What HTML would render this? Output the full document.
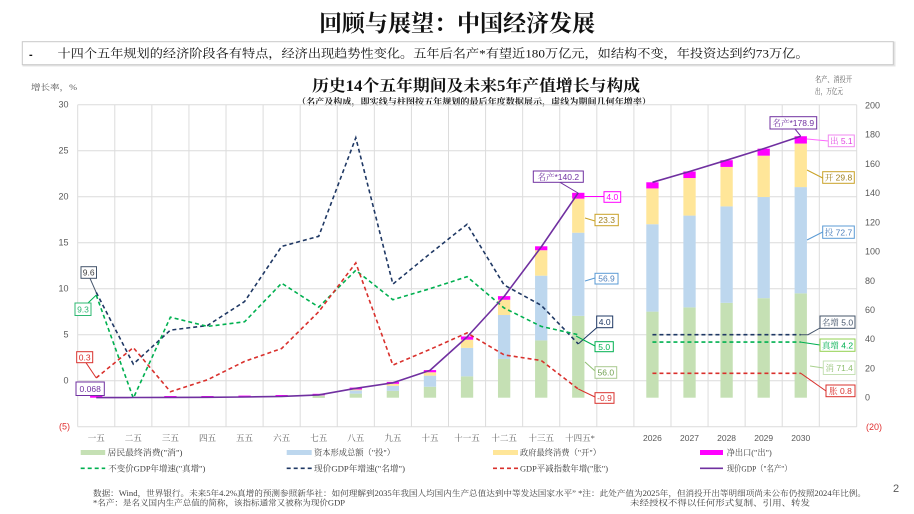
<!DOCTYPE html>
<html>
<head>
<meta charset="utf-8">
<style>
html,body{margin:0;padding:0;background:#fff;}
svg{display:block;}
.cjk{font-family:"Liberation Serif","Noto Serif CJK SC",serif;}
.num{font-family:"Liberation Sans","Noto Sans CJK SC",sans-serif;}
</style>
</head>
<body>
<svg width="914" height="514" viewBox="0 0 914 514" xmlns="http://www.w3.org/2000/svg">
<rect x="0" y="0" width="914" height="514" fill="#fff"/>

<!-- Main title -->
<text x="457" y="31" text-anchor="middle" class="cjk" font-size="23" font-weight="700" fill="#111">回顾与展望：中国经济发展</text>

<!-- bullet box -->
<rect x="23.5" y="42.5" width="871" height="23" fill="#fff" stroke="#e4e4e4" stroke-width="2"/>
<rect x="22.3" y="41.7" width="871" height="23" fill="#fff" stroke="#c8c8c8" stroke-width="1"/>
<text x="29" y="58" class="num" font-size="11" font-weight="700" fill="#111">-</text>
<text x="57.5" y="57.5" class="cjk" font-size="12" fill="#111" textLength="751" lengthAdjust="spacingAndGlyphs">十四个五年规划的经济阶段各有特点，经济出现趋势性变化。五年后名产*有望近180万亿元，如结构不变，年投资达到约73万亿。</text>

<!-- chart titles -->
<text x="476" y="91" text-anchor="middle" class="cjk" font-size="16" font-weight="700" fill="#111" textLength="328" lengthAdjust="spacingAndGlyphs">历史14个五年期间及未来5年产值增长与构成</text>
<text x="474" y="104.5" text-anchor="middle" class="cjk" font-size="8.5" font-weight="700" fill="#222" textLength="354" lengthAdjust="spacingAndGlyphs">（名产及构成，即实线与柱图按五年规划的最后年度数据展示，虚线为期间几何年增率）</text>

<text x="31" y="90" class="cjk" font-size="8" fill="#555" textLength="46" lengthAdjust="spacingAndGlyphs">增长率，%</text>
<text x="815" y="82" class="cjk" font-size="8" fill="#555" textLength="37" lengthAdjust="spacingAndGlyphs">名产、消投开</text>
<text x="815" y="94" class="cjk" font-size="8" fill="#555" textLength="28" lengthAdjust="spacingAndGlyphs">出，万亿元</text>

<!-- gridlines -->
<g stroke="#dcdcdc" stroke-width="1" fill="none">
<line x1="77.7" y1="104.7" x2="856.7" y2="104.7"/>
<line x1="77.7" y1="150.7" x2="856.7" y2="150.7"/>
<line x1="77.7" y1="196.7" x2="856.7" y2="196.7"/>
<line x1="77.7" y1="242.7" x2="856.7" y2="242.7"/>
<line x1="77.7" y1="288.7" x2="856.7" y2="288.7"/>
<line x1="77.7" y1="334.7" x2="856.7" y2="334.7"/>
<line x1="77.7" y1="380.7" x2="856.7" y2="380.7"/>
<line x1="77.7" y1="426.7" x2="856.7" y2="426.7"/>
<line x1="77.7" y1="104.7" x2="77.7" y2="426.7"/>
<line x1="114.78" y1="104.7" x2="114.78" y2="426.7"/>
<line x1="151.86" y1="104.7" x2="151.86" y2="426.7"/>
<line x1="188.94" y1="104.7" x2="188.94" y2="426.7"/>
<line x1="226.02" y1="104.7" x2="226.02" y2="426.7"/>
<line x1="263.1" y1="104.7" x2="263.1" y2="426.7"/>
<line x1="300.18" y1="104.7" x2="300.18" y2="426.7"/>
<line x1="337.26" y1="104.7" x2="337.26" y2="426.7"/>
<line x1="374.34" y1="104.7" x2="374.34" y2="426.7"/>
<line x1="411.42" y1="104.7" x2="411.42" y2="426.7"/>
<line x1="448.5" y1="104.7" x2="448.5" y2="426.7"/>
<line x1="485.58" y1="104.7" x2="485.58" y2="426.7"/>
<line x1="522.66" y1="104.7" x2="522.66" y2="426.7"/>
<line x1="559.74" y1="104.7" x2="559.74" y2="426.7"/>
<line x1="596.82" y1="104.7" x2="596.82" y2="426.7"/>
<line x1="633.9" y1="104.7" x2="633.9" y2="426.7"/>
<line x1="670.98" y1="104.7" x2="670.98" y2="426.7"/>
<line x1="708.06" y1="104.7" x2="708.06" y2="426.7"/>
<line x1="745.14" y1="104.7" x2="745.14" y2="426.7"/>
<line x1="782.22" y1="104.7" x2="782.22" y2="426.7"/>
<line x1="819.3" y1="104.7" x2="819.3" y2="426.7"/>
<line x1="856.7" y1="104.7" x2="856.7" y2="426.7"/>
</g>

<!-- left axis labels -->
<g class="num" font-size="9" fill="#595959" text-anchor="end">
<text x="68.5" y="107.7">30</text>
<text x="68.5" y="153.7">25</text>
<text x="68.5" y="199.7">20</text>
<text x="68.5" y="245.7">15</text>
<text x="68.5" y="291.7">10</text>
<text x="68.5" y="337.7">5</text>
<text x="68.5" y="383.7">0</text>
<text x="70" y="429.7" fill="#e03030">(5)</text>
</g>
<!-- right axis labels -->
<g class="num" font-size="9" fill="#595959">
<text x="865" y="108.4">200</text>
<text x="865" y="137.6">180</text>
<text x="865" y="166.9">160</text>
<text x="865" y="196.1">140</text>
<text x="865" y="225.3">120</text>
<text x="865" y="254.6">100</text>
<text x="865" y="283.8">80</text>
<text x="865" y="313">60</text>
<text x="865" y="342.2">40</text>
<text x="865" y="371.5">20</text>
<text x="865" y="400.7">0</text>
<text x="866" y="429.9" fill="#e03030">(20)</text>
</g>

<!-- x labels -->
<g class="cjk" font-size="8.5" fill="#595959" text-anchor="middle">
<text x="96.24" y="441">一五</text>
<text x="133.32" y="441">二五</text>
<text x="170.40" y="441">三五</text>
<text x="207.48" y="441">四五</text>
<text x="244.56" y="441">五五</text>
<text x="281.64" y="441">六五</text>
<text x="318.72" y="441">七五</text>
<text x="355.80" y="441">八五</text>
<text x="392.88" y="441">九五</text>
<text x="429.96" y="441">十五</text>
<text x="467.04" y="441">十一五</text>
<text x="504.12" y="441">十二五</text>
<text x="541.20" y="441">十三五</text>
<text x="580" y="441">十四五*</text>
</g>
<g class="num" font-size="8.5" fill="#595959" text-anchor="middle">
<text x="652.44" y="441">2026</text>
<text x="689.52" y="441">2027</text>
<text x="726.60" y="441">2028</text>
<text x="763.68" y="441">2029</text>
<text x="800.76" y="441">2030</text>
</g>

<!-- bars (right axis, data coords) -->
<g transform="translate(0,397.7) scale(1,-1.4615)">
<!-- 八五 -->
<rect x="349.65" y="0" width="12.3" height="2.8" fill="#c5e0b4"/>
<rect x="349.65" y="2.8" width="12.3" height="2.2" fill="#bdd7ee"/>
<rect x="349.65" y="5.0" width="12.3" height="0.6" fill="#ffe699"/>
<rect x="349.65" y="5.6" width="12.3" height="1.3" fill="#ff00ff"/>
<!-- 九五 -->
<rect x="386.73" y="0" width="12.3" height="4.7" fill="#c5e0b4"/>
<rect x="386.73" y="4.7" width="12.3" height="3.4" fill="#bdd7ee"/>
<rect x="386.73" y="8.1" width="12.3" height="1.4" fill="#ffe699"/>
<rect x="386.73" y="9.5" width="12.3" height="1.3" fill="#ff00ff"/>
<!-- 十五 -->
<rect x="423.81" y="0" width="12.3" height="7.5" fill="#c5e0b4"/>
<rect x="423.81" y="7.5" width="12.3" height="7.6" fill="#bdd7ee"/>
<rect x="423.81" y="15.1" width="12.3" height="2.3" fill="#ffe699"/>
<rect x="423.81" y="17.4" width="12.3" height="1.5" fill="#ff00ff"/>
<!-- 十一五 -->
<rect x="460.89" y="0" width="12.3" height="14.6" fill="#c5e0b4"/>
<rect x="460.89" y="14.6" width="12.3" height="19.5" fill="#bdd7ee"/>
<rect x="460.89" y="34.1" width="12.3" height="5.6" fill="#ffe699"/>
<rect x="460.89" y="39.7" width="12.3" height="2.2" fill="#ff00ff"/>
<!-- 十二五 -->
<rect x="497.97" y="0" width="12.3" height="26.5" fill="#c5e0b4"/>
<rect x="497.97" y="26.5" width="12.3" height="30.1" fill="#bdd7ee"/>
<rect x="497.97" y="56.6" width="12.3" height="10.4" fill="#ffe699"/>
<rect x="497.97" y="67.0" width="12.3" height="2.5" fill="#ff00ff"/>
<!-- 十三五 -->
<rect x="535.05" y="0" width="12.3" height="39.2" fill="#c5e0b4"/>
<rect x="535.05" y="39.2" width="12.3" height="44.3" fill="#bdd7ee"/>
<rect x="535.05" y="83.5" width="12.3" height="17.4" fill="#ffe699"/>
<rect x="535.05" y="100.9" width="12.3" height="2.7" fill="#ff00ff"/>
<!-- 十四五 -->
<rect x="572.13" y="0" width="12.3" height="56.0" fill="#c5e0b4"/>
<rect x="572.13" y="56.0" width="12.3" height="56.9" fill="#bdd7ee"/>
<rect x="572.13" y="112.9" width="12.3" height="23.3" fill="#ffe699"/>
<rect x="572.13" y="136.2" width="12.3" height="4.0" fill="#ff00ff"/>
<!-- 2026 -->
<rect x="646.29" y="0" width="12.3" height="58.9" fill="#c5e0b4"/>
<rect x="646.29" y="58.9" width="12.3" height="59.8" fill="#bdd7ee"/>
<rect x="646.29" y="118.7" width="12.3" height="24.5" fill="#ffe699"/>
<rect x="646.29" y="143.2" width="12.3" height="4.2" fill="#ff00ff"/>
<!-- 2027 -->
<rect x="683.37" y="0" width="12.3" height="61.8" fill="#c5e0b4"/>
<rect x="683.37" y="61.8" width="12.3" height="62.8" fill="#bdd7ee"/>
<rect x="683.37" y="124.6" width="12.3" height="25.7" fill="#ffe699"/>
<rect x="683.37" y="150.3" width="12.3" height="4.5" fill="#ff00ff"/>
<!-- 2028 -->
<rect x="720.45" y="0" width="12.3" height="64.9" fill="#c5e0b4"/>
<rect x="720.45" y="64.9" width="12.3" height="66.0" fill="#bdd7ee"/>
<rect x="720.45" y="130.9" width="12.3" height="27.0" fill="#ffe699"/>
<rect x="720.45" y="157.9" width="12.3" height="4.6" fill="#ff00ff"/>
<!-- 2029 -->
<rect x="757.53" y="0" width="12.3" height="68.1" fill="#c5e0b4"/>
<rect x="757.53" y="68.1" width="12.3" height="69.2" fill="#bdd7ee"/>
<rect x="757.53" y="137.3" width="12.3" height="28.3" fill="#ffe699"/>
<rect x="757.53" y="165.6" width="12.3" height="4.8" fill="#ff00ff"/>
<!-- 2030 -->
<rect x="794.61" y="0" width="12.3" height="71.4" fill="#c5e0b4"/>
<rect x="794.61" y="71.4" width="12.3" height="72.7" fill="#bdd7ee"/>
<rect x="794.61" y="144.1" width="12.3" height="29.8" fill="#ffe699"/>
<rect x="794.61" y="173.9" width="12.3" height="5.0" fill="#ff00ff"/>
</g>
<!-- tiny early bars -->
<g fill="#ff00ff">
<rect x="90.09" y="396" width="12.3" height="1.7"/>
<rect x="164.25" y="396" width="12.3" height="1.7"/>
<rect x="201.33" y="396" width="12.3" height="1.7"/>
<rect x="238.41" y="395.6" width="12.3" height="1.8"/>
<rect x="275.49" y="395" width="12.3" height="1.8"/>
</g>
<rect x="312.57" y="395.5" width="12.3" height="2.4" fill="#c5e0b4"/>
<rect x="312.57" y="393.8" width="12.3" height="1.5" fill="#ff00ff"/>

<!-- dashed lines (left axis) -->
<g fill="none" stroke-width="1.6" stroke-dasharray="4 3">
<polyline stroke="#1f3864" points="96.24,292.4 133.32,364.1 170.40,330.1 207.48,325.5 244.56,301.6 281.64,246.4 318.72,236.3 355.80,137.8 392.88,284.1 429.96,253.7 467.04,224.3 504.12,285.0 541.20,305.3 578.28,343.9"/>
<polyline stroke="#00b050" points="96.24,295.1 133.32,398.2 170.40,317.2 207.48,326.4 244.56,321.8 281.64,283.2 318.72,307.1 355.80,270.3 392.88,299.7 429.96,288.7 467.04,276.7 504.12,308.0 541.20,326.4 578.28,334.7"/>
<polyline stroke="#d9302c" points="96.24,377.9 133.32,347.6 170.40,391.7 207.48,379.8 244.56,361.4 281.64,348.5 318.72,311.7 355.80,262.9 392.88,365.1 429.96,349.4 467.04,332.9 504.12,354.9 541.20,360.5 578.28,389.0"/>
<line x1="652.44" y1="334.7" x2="800.76" y2="334.7" stroke="#1f3864"/>
<line x1="652.44" y1="342.1" x2="800.76" y2="342.1" stroke="#00b050"/>
<line x1="652.44" y1="373.3" x2="800.76" y2="373.3" stroke="#d9302c"/>
</g>

<!-- purple solid line -->
<g fill="none" stroke="#7030a0" stroke-width="1.6" stroke-linejoin="round">
<polyline points="96.24,397.6 133.32,397.5 170.40,397.4 207.48,397.3 244.56,397.0 281.64,396.4 318.72,394.9 355.80,388.3 392.88,382.8 429.96,370.4 467.04,337.0 504.12,296.5 541.20,247.0 578.28,192.8"/>
<polyline points="652.44,182.3 689.52,171.5 726.60,160.2 763.68,148.6 800.76,136.2"/>
</g>

<!-- callout leaders -->
<g fill="none" stroke-width="1">
<line x1="90" y1="278.3" x2="96.2" y2="292.4" stroke="#44546a"/>
<line x1="88" y1="303" x2="96.2" y2="295.1" stroke="#00b050"/>
<line x1="86" y1="362.7" x2="96.2" y2="377.9" stroke="#d9302c"/>
<line x1="560" y1="182.3" x2="578" y2="193" stroke="#7030a0"/>
<line x1="584.4" y1="196.5" x2="604" y2="196.5" stroke="#ff00ff"/>
<line x1="585" y1="218" x2="595" y2="221" stroke="#c9a227"/>
<line x1="585" y1="281" x2="595" y2="278" stroke="#5b9bd5"/>
<line x1="578.3" y1="343.9" x2="597" y2="327.5" stroke="#1f3864"/>
<line x1="576" y1="336" x2="595" y2="346" stroke="#00b050"/>
<line x1="585" y1="362" x2="595" y2="371" stroke="#8fbf70"/>
<line x1="578.3" y1="389" x2="595" y2="397" stroke="#d9302c"/>
<line x1="795" y1="129" x2="800.7" y2="136" stroke="#7030a0"/>
<line x1="807" y1="139" x2="828.3" y2="141" stroke="#ff66ff"/>
<line x1="807" y1="170" x2="822.7" y2="178" stroke="#c9a227"/>
<line x1="807" y1="240" x2="822.7" y2="232" stroke="#5b9bd5"/>
<polyline points="800.8,334.7 808,334.7 820,328" stroke="#44546a"/>
<line x1="800.8" y1="342.1" x2="820" y2="345" stroke="#00b050"/>
<line x1="810" y1="366" x2="823.3" y2="368" stroke="#a9d18e"/>
<line x1="800.8" y1="373.3" x2="826" y2="391" stroke="#d9302c"/>
</g>

<!-- callout boxes -->
<g stroke-width="1" fill="#fff">
<rect x="81" y="266.7" width="15.5" height="11.6" stroke="#44546a"/>
<rect x="75" y="303" width="16" height="12.5" stroke="#2eb872"/>
<rect x="76.7" y="351.7" width="16" height="11" stroke="#d9302c"/>
<rect x="76" y="382" width="28.3" height="13.5" stroke="#7030a0"/>
<rect x="533.3" y="171" width="50" height="11.3" stroke="#7030a0"/>
<rect x="604" y="191.7" width="16.7" height="10.6" stroke="#ff00ff"/>
<rect x="595" y="214.3" width="23.3" height="11.4" stroke="#c9a227"/>
<rect x="595" y="273.3" width="23" height="10.7" stroke="#5b9bd5"/>
<rect x="596.7" y="316" width="16" height="11.7" stroke="#1f3864"/>
<rect x="595" y="341.7" width="18.3" height="10" stroke="#00b050"/>
<rect x="595" y="366.7" width="21.7" height="11.6" stroke="#a9c98f"/>
<rect x="595" y="392.7" width="19" height="10.6" stroke="#d9302c"/>
<rect x="770" y="116.7" width="46.7" height="12.3" stroke="#7030a0"/>
<rect x="828.3" y="135" width="26" height="11.7" stroke="#f08af0"/>
<rect x="822.7" y="171.7" width="31.6" height="11.6" stroke="#c9a227"/>
<rect x="822.7" y="226" width="31.6" height="12.3" stroke="#5b9bd5"/>
<rect x="820" y="316" width="35" height="12.3" stroke="#44546a"/>
<rect x="820" y="339" width="35" height="12.3" stroke="#92d050"/>
<rect x="823.3" y="361" width="31.7" height="13.5" stroke="#c5e0b4"/>
<rect x="826" y="385" width="29" height="11.7" stroke="#d9302c"/>
</g>

<!-- callout texts -->
<g class="num" font-size="8.5" text-anchor="middle">
<text x="88.7" y="275.5" fill="#404040">9.6</text>
<text x="83" y="312.3" fill="#2eb872">9.3</text>
<text x="84.7" y="360.3" fill="#d9302c">0.3</text>
<text x="90.2" y="391.8" fill="#7030a0">0.068</text>
<text x="612.3" y="200" fill="#ff00ff">4.0</text>
<text x="606.7" y="223" fill="#a08020">23.3</text>
<text x="606.5" y="281.7" fill="#4f81bd">56.9</text>
<text x="604.7" y="324.8" fill="#1f3864">4.0</text>
<text x="604.2" y="349.8" fill="#00b050">5.0</text>
<text x="605.8" y="375.5" fill="#70a050">56.0</text>
<text x="604.5" y="401" fill="#d9302c">-0.9</text>
</g>
<g font-size="8.5" text-anchor="middle">
<text x="558.3" y="180" fill="#7030a0"><tspan class="cjk">名产</tspan><tspan class="num">*140.2</tspan></text>
<text x="793.3" y="126" fill="#7030a0"><tspan class="cjk">名产</tspan><tspan class="num">*178.9</tspan></text>
<text x="841.3" y="144" fill="#e040e0"><tspan class="cjk">出</tspan><tspan class="num"> 5.1</tspan></text>
<text x="838.5" y="180.7" fill="#a08020"><tspan class="cjk">开</tspan><tspan class="num"> 29.8</tspan></text>
<text x="838.5" y="235.3" fill="#4f81bd"><tspan class="cjk">投</tspan><tspan class="num"> 72.7</tspan></text>
<text x="837.5" y="325.3" fill="#44546a"><tspan class="cjk">名增</tspan><tspan class="num"> 5.0</tspan></text>
<text x="837.5" y="348.3" fill="#00b050"><tspan class="cjk">真增</tspan><tspan class="num"> 4.2</tspan></text>
<text x="839.2" y="370.9" fill="#8fbf70"><tspan class="cjk">消</tspan><tspan class="num"> 71.4</tspan></text>
<text x="840.5" y="394" fill="#d9302c"><tspan class="cjk">胀</tspan><tspan class="num"> 0.8</tspan></text>
</g>

<!-- legend -->
<rect x="80.7" y="450" width="24.5" height="5" fill="#c5e0b4"/>
<rect x="286.7" y="450" width="25" height="5" fill="#bdd7ee"/>
<rect x="493" y="450" width="25" height="5" fill="#ffe699"/>
<rect x="700" y="450" width="23" height="5" fill="#ff00ff"/>
<g stroke-width="1.6" stroke-dasharray="4 3">
<line x1="80.7" y1="468.3" x2="105.2" y2="468.3" stroke="#00b050"/>
<line x1="286.7" y1="468.3" x2="311.7" y2="468.3" stroke="#1f3864"/>
<line x1="493" y1="468.3" x2="518" y2="468.3" stroke="#d9302c"/>
</g>
<line x1="700" y1="468.3" x2="723" y2="468.3" stroke="#7030a0" stroke-width="1.6"/>
<g class="cjk" font-size="8.5" fill="#404040">
<text x="107.5" y="455.5" textLength="75" lengthAdjust="spacingAndGlyphs">居民最终消费("消")</text>
<text x="314" y="455.5" textLength="81" lengthAdjust="spacingAndGlyphs">资本形成总额（"投"）</text>
<text x="520" y="455.5" textLength="81" lengthAdjust="spacingAndGlyphs">政府最终消费（"开"）</text>
<text x="726.7" y="455.5" textLength="45" lengthAdjust="spacingAndGlyphs">净出口("出")</text>
<text x="108.3" y="471.5" textLength="97" lengthAdjust="spacingAndGlyphs">不变价GDP年增速("真增")</text>
<text x="314" y="471.5" textLength="91" lengthAdjust="spacingAndGlyphs">现价GDP年增速("名增")</text>
<text x="520" y="471.5" textLength="88" lengthAdjust="spacingAndGlyphs">GDP平减指数年增("胀")</text>
<text x="726.7" y="471.5" textLength="65" lengthAdjust="spacingAndGlyphs">现价GDP（"名产"）</text>
</g>

<!-- footnotes -->
<g class="cjk" font-size="8" fill="#404040">
<text x="93" y="496" textLength="773" lengthAdjust="spacingAndGlyphs">数据：Wind，世界银行。未来5年4.2%真增的预测参照新华社：如何理解到2035年我国人均国内生产总值达到中等发达国家水平” *注：此处产值为2025年，但消投开出等明细项尚未公布仍按照2024年比例。</text>
<text x="93" y="505.5" textLength="252" lengthAdjust="spacingAndGlyphs">*名产：是名义国内生产总值的简称，该指标通常又被称为现价GDP</text>
<text x="630" y="505.5" textLength="180" lengthAdjust="spacingAndGlyphs">未经授权不得以任何形式复制、引用、转发</text>
</g>
<text x="893" y="492" class="num" font-size="11" fill="#595959">2</text>
</svg>
</body>
</html>
